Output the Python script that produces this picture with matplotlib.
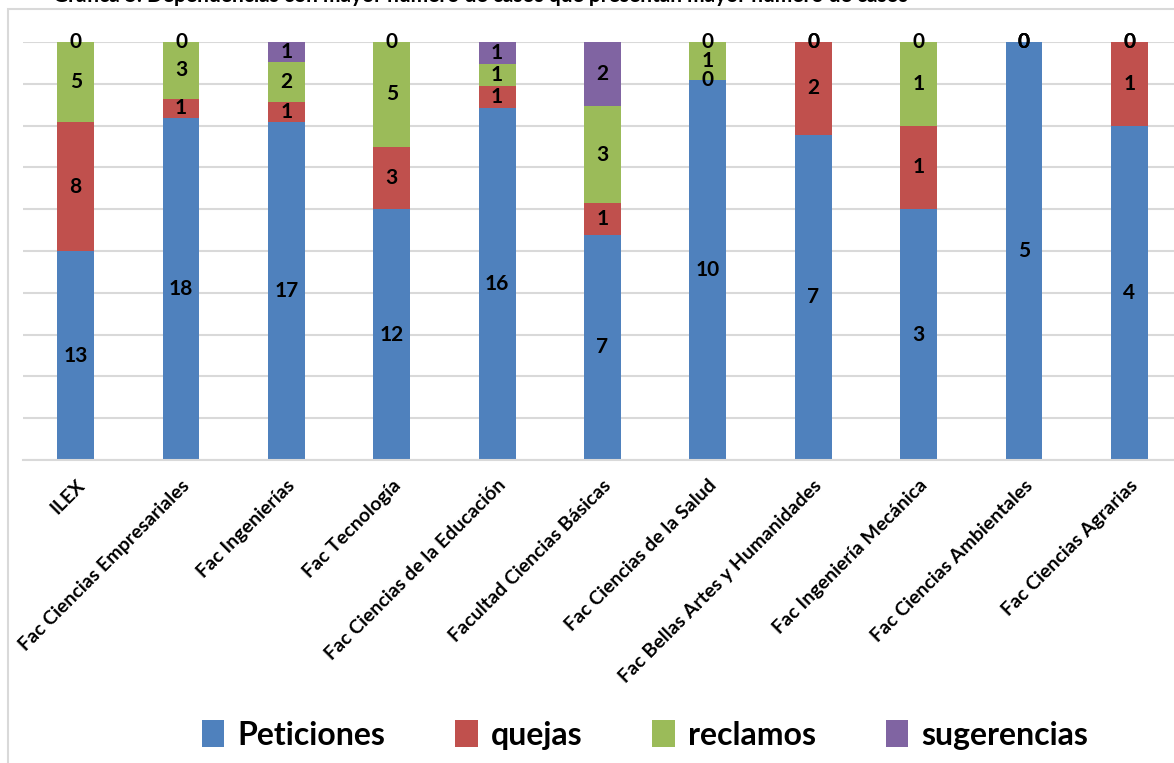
import numpy as np
import matplotlib
matplotlib.use("Agg")
import matplotlib.pyplot as plt
from matplotlib.patches import Rectangle, Patch

plt.rcParams['font.family'] = ['Lato', 'DejaVu Sans']

# data
dependencias = ['ILEX', 'Fac Ciencias Empresariales', 'Fac Ingenierías', 'Fac Tecnología',
                'Fac Ciencias de la Educación', 'Facultad Ciencias Básicas',
                'Fac Ciencias de la Salud', 'Fac Bellas Artes y Humanidades',
                'Fac Ingeniería Mecánica', 'Fac Ciencias Ambientales', 'Fac Ciencias Agrarias']
peticiones = [13, 18, 17, 12, 16, 7, 10, 7, 3, 5, 4]
quejas = [8, 1, 1, 3, 1, 1, 0, 2, 1, 0, 1]
reclamos = [5, 3, 2, 5, 1, 3, 1, 0, 1, 0, 0]
sugerencias = [0, 0, 1, 0, 1, 2, 0, 0, 0, 0, 0]

series = [('Peticiones', peticiones, '#4F81BD'),
          ('quejas', quejas, '#C0504D'),
          ('reclamos', reclamos, '#9BBB59'),
          ('sugerencias', sugerencias, '#8064A2')]

W, H = 1174, 763
fig = plt.figure(figsize=(W / 100, H / 100), dpi=100)

# outer chart frame
fig.patches.append(Rectangle((8 / W, -0.1), 1.2, 1 - 9 / H + 0.1, transform=fig.transFigure,
                             fill=False, edgecolor='#d9d9d9', linewidth=1.5))

# title, cut off at the top edge as in the screenshot
fig.text(0.5 * 960 / W, 1 - 2 / H, 'Gráfica 5. Dependencias con mayor número de casos que presentan mayor número de casos',
         ha='center', va='baseline', fontsize=15, fontweight='bold')

ax = fig.add_axes([23 / W, 1 - 460 / H, (1182 - 23) / W, (460 - 42) / H])

x = np.arange(len(dependencias))
totals = np.sum([s[1] for s in series], axis=0)
bottom = np.zeros(len(dependencias))
for name, vals, color in series:
    vals = np.array(vals, dtype=float)
    frac = vals / totals
    ax.bar(x, frac, 0.35, bottom=bottom, color=color, label=name, zorder=2)
    for xi, b, f, v in zip(x, bottom, frac, vals):
        ax.text(xi, b + f / 2, str(int(v)), ha='center', va='center',
                fontsize=15, fontweight='bold', color='black', zorder=3)
    bottom += frac

ax.set_xlim(-0.5, len(dependencias) - 0.5)
ax.set_ylim(0, 1)
ax.set_yticks(np.linspace(0, 1, 11))
ax.yaxis.grid(True, color='#d9d9d9', linewidth=1.5, zorder=0)
ax.tick_params(axis='y', left=False, labelleft=False)
ax.tick_params(axis='x', length=0, pad=12)
ax.set_xticks(x)
ax.set_xticklabels(dependencias, rotation=45, ha='right', rotation_mode='anchor',
                   fontsize=14, fontweight='bold')
for sp in ['left', 'right', 'top']:
    ax.spines[sp].set_visible(False)
ax.spines['bottom'].set_color('#d9d9d9')
ax.spines['bottom'].set_linewidth(1.5)
ax.set_axisbelow(True)

handles = [Patch(facecolor=c, label=n) for n, _, c in series]
fig.legend(handles=handles, loc='center', bbox_to_anchor=(645 / W, 1 - 735 / H), ncol=4,
           frameon=False, prop={'size': 23, 'weight': 'bold'},
           handlelength=0.7, handleheight=0.9, handletextpad=0.4, columnspacing=2.2)

fig.savefig('out.png', dpi=100)
